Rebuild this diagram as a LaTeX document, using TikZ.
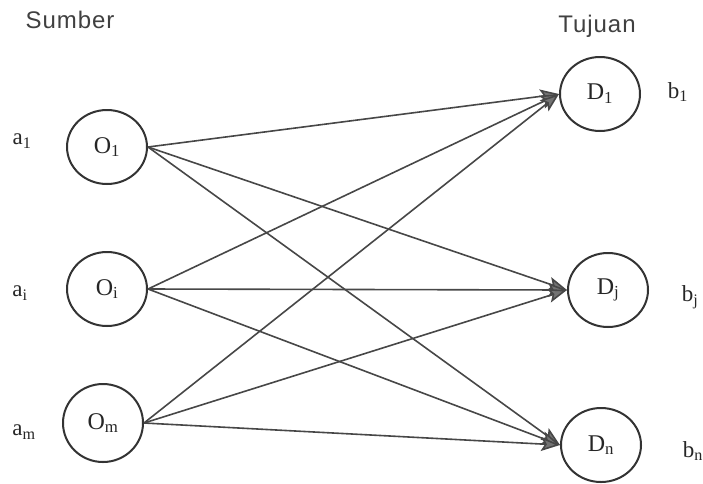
\documentclass[tikz,border=0pt]{standalone}
\usepackage{fontspec}
\setmainfont{Liberation Serif}
\newfontfamily\hdr[LetterSpace=4]{Liberation Sans}
\usetikzlibrary{arrows.meta,shapes.geometric}
\begin{document}
\begin{tikzpicture}[x=1pt,y=-1pt,
 place/.style={ellipse,draw=black!80,line width=2pt,minimum width=80pt,minimum height=74pt,inner sep=0pt,text=black!85,font=\fontsize{24}{26}\selectfont},
 lab/.style={text=black!85,font=\fontsize{23}{25}\selectfont},
 head/.style={text=black!75,font=\hdr\fontsize{24}{28}\selectfont},
 flow/.style={draw=black!72,line width=1.6pt,-{Stealth[length=19pt,width=14pt,inset=4pt,fill=black!55]}}
]
\useasboundingbox (0,0) rectangle (703,483);
\node[head] (sumber) at (70,20) {Sumber};
\node[head] (tujuan) at (597,26) {Tujuan};

\node[place] (O1) at (107,147) {O\textsubscript{1}};
\node[place] (Oi) at (107,289) {O\textsubscript{i}};
\node[place,minimum height=78pt] (Om) at (103,423) {O\textsubscript{m}};

\node[place] (D1) at (600,94) {D\textsubscript{1}};
\node[place] (Dj) at (608,290) {D\textsubscript{j}};
\node[place] (Dn) at (601,445) {D\textsubscript{n}};

\node[lab] (a1) at (22,141) {a\textsubscript{1}};
\node[lab] (ai) at (20,293) {a\textsubscript{i}};
\node[lab] (am) at (24,432) {a\textsubscript{m}};
\node[lab] (b1) at (678,92) {b\textsubscript{1}};
\node[lab] (bj) at (690,297) {b\textsubscript{j}};
\node[lab] (bn) at (693,451) {b\textsubscript{n}};

\foreach \s in {O1,Oi,Om}{
  \foreach \t in {D1,Dj,Dn}{
    \draw[flow] (\s.east) -- (\t.west);
  }
}
\end{tikzpicture}
\end{document}
